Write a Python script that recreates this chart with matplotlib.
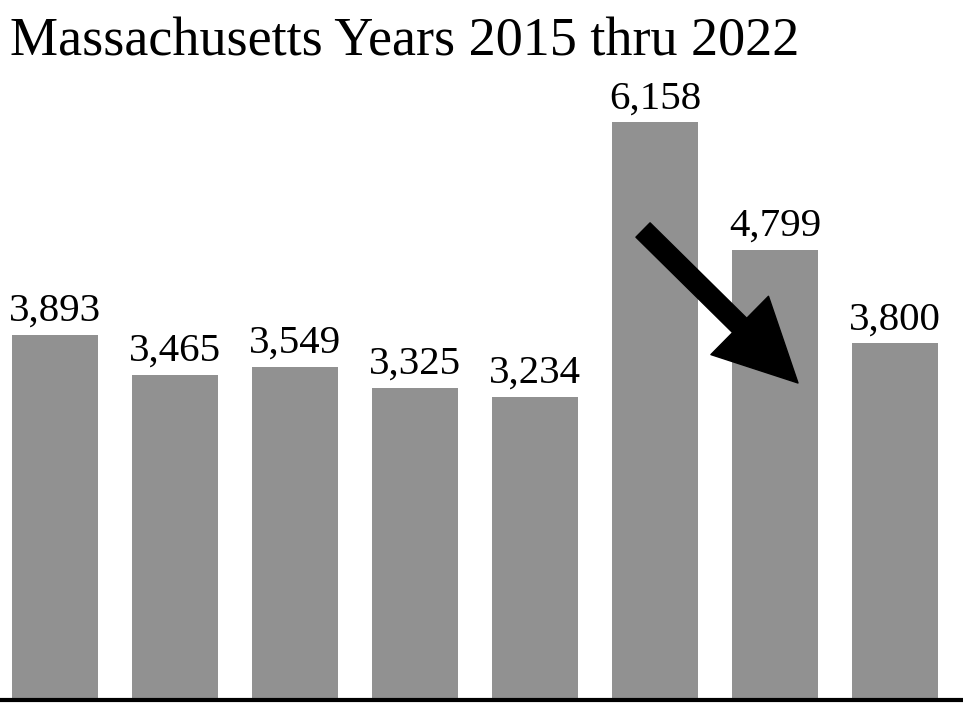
import matplotlib.pyplot as plt

# Massachusetts yearly counts
years = ["2015", "2016", "2017", "2018", "2019", "2020", "2021", "2022"]
values = [3893, 3465, 3549, 3325, 3234, 6158, 4799, 3800]

plt.rcParams["font.family"] = ["Liberation Serif", "DejaVu Serif"]

fig = plt.figure(figsize=(9.63, 7.04), dpi=100)
ax = fig.add_axes([0, 4 / 704, 1, 700 / 704])

x = list(range(len(years)))
ax.bar(x, values, width=0.72, color="#919191", zorder=1)

for xi, v in zip(x, values):
    ax.annotate(f"{v:,}", xy=(xi, v), xytext=(0, 10), textcoords="offset points",
                ha="center", va="baseline", fontsize=29.5, color="black")

ax.set_xlim(-0.458, 7.567)
ax.set_ylim(0, 7460)
ax.set_xticks([])
ax.set_yticks([])
for s in ["top", "left", "right"]:
    ax.spines[s].set_visible(False)
ax.spines["bottom"].set_linewidth(3)
ax.spines["bottom"].set_color("black")
ax.spines["bottom"].set_zorder(3)

fig.text(10 / 963, 1 - 56 / 704, "Massachusetts Years 2015 thru 2022",
         fontsize=39, ha="left", va="baseline", color="black")

# downward arrow from the 2020 peak
ax.annotate("", xy=(798 / 963, 321 / 704), xycoords="figure fraction",
            xytext=(643 / 963, 474 / 704), textcoords="figure fraction",
            arrowprops=dict(arrowstyle="simple,head_length=5.9,head_width=5.9,tail_width=1.45",
                            color="black", shrinkA=0, shrinkB=0, mutation_scale=10))

fig.savefig("out.png", dpi=100)
